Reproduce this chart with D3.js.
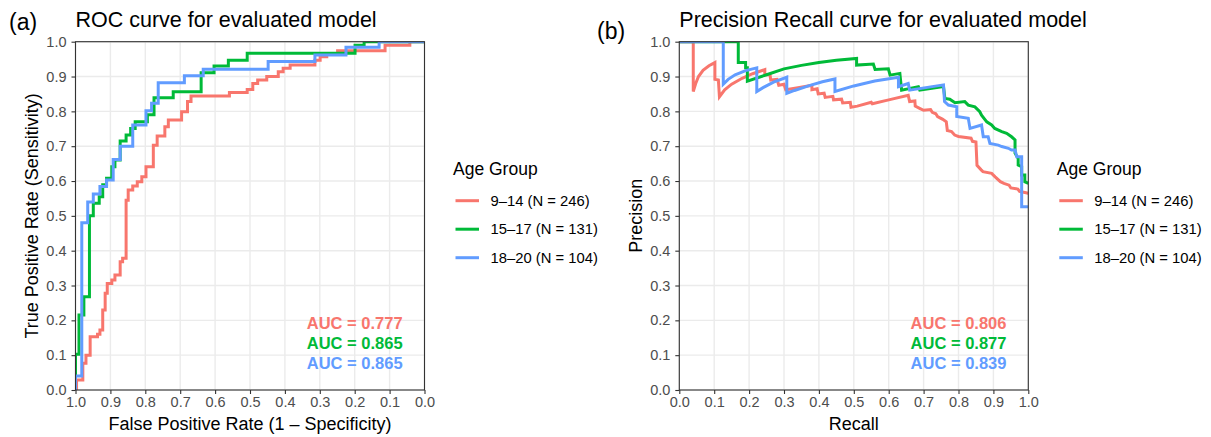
<!DOCTYPE html>
<html>
<head>
<meta charset="utf-8">
<script src="https://cdn.jsdelivr.net/npm/d3@7"></script>
<style>
  body { margin: 0; background: #ffffff; }
  text { font-family: "Liberation Sans", Arial, Helvetica, sans-serif; }
</style>
</head>
<body>
<svg id="chart" width="1211" height="437"></svg>
<script>
// ---- categories, labels and tick values ----
const groupLabels = ["9\u201314 (N = 246)", "15\u201317 (N = 131)", "18\u201320 (N = 104)"];
const groupColors = ["#F8766D", "#00BA38", "#619CFF"];
const tickValues = [0, 0.1, 0.2, 0.3, 0.4, 0.5, 0.6, 0.7, 0.8, 0.9, 1.0];
const rocAUC = ["0.777", "0.865", "0.865"];
const prAUC = ["0.806", "0.877", "0.839"];

// ---- ROC curve points (specificity, sensitivity), one point per threshold ----
const rocSpecA = [1.0, 0.997, 0.979, 0.970, 0.958, 0.937, 0.930, 0.922, 0.915, 0.909, 0.896, 0.887, 0.872, 0.865,
  0.855, 0.849, 0.836, 0.823, 0.810, 0.798, 0.777, 0.766, 0.744, 0.734, 0.696, 0.679, 0.669, 0.559, 0.508,
  0.492, 0.478, 0.452, 0.419, 0.405, 0.385, 0.314, 0.299, 0.280, 0.249, 0.113, 0.042, 0.0];
const rocSensA = [0.0, 0.029, 0.077, 0.100, 0.153, 0.160, 0.172, 0.230, 0.278, 0.306, 0.316, 0.330, 0.368, 0.378,
  0.545, 0.574, 0.586, 0.598, 0.612, 0.641, 0.703, 0.729, 0.756, 0.775, 0.799, 0.828, 0.844, 0.854, 0.863,
  0.880, 0.890, 0.900, 0.914, 0.924, 0.933, 0.947, 0.957, 0.965, 0.974, 0.990, 1.0, 1.0];

const rocSpecB = [1.0, 1.0, 0.990, 0.976, 0.960, 0.949, 0.932, 0.922, 0.911, 0.896, 0.887, 0.872, 0.855, 0.842,
  0.829, 0.794, 0.775, 0.720, 0.640, 0.603, 0.562, 0.508, 0.199, 0.173, 0.0];
const rocSensB = [0.0, 0.103, 0.215, 0.268, 0.500, 0.536, 0.555, 0.589, 0.608, 0.641, 0.660, 0.715, 0.732, 0.751,
  0.770, 0.790, 0.839, 0.856, 0.911, 0.930, 0.947, 0.967, 0.990, 1.0, 1.0];

const rocSpecC = [1.0, 1.0, 0.982, 0.965, 0.949, 0.930, 0.911, 0.892, 0.872, 0.836, 0.798, 0.782, 0.763, 0.688,
  0.634, 0.448, 0.314, 0.225, 0.130, 0.0];
const rocSensC = [0.0, 0.040, 0.480, 0.540, 0.563, 0.584, 0.603, 0.662, 0.700, 0.761, 0.802, 0.823, 0.882, 0.902,
  0.921, 0.943, 0.962, 0.984, 1.0, 1.0];

// ---- precision-recall curve points (recall, precision) ----
const prRecA = [0.0, 0.040, 0.040, 0.047, 0.055, 0.068, 0.085, 0.102, 0.102, 0.112, 0.115, 0.130, 0.150, 0.180,
  0.210, 0.245, 0.245, 0.260, 0.262, 0.280, 0.285, 0.300, 0.305, 0.340, 0.380, 0.380, 0.395, 0.398, 0.415,
  0.418, 0.440, 0.442, 0.465, 0.468, 0.490, 0.492, 0.510, 0.550, 0.553, 0.600, 0.656, 0.660, 0.675, 0.676,
  0.690, 0.700, 0.720, 0.725, 0.735, 0.740, 0.755, 0.765, 0.768, 0.780, 0.789, 0.800, 0.836, 0.840, 0.850,
  0.853, 0.865, 0.870, 0.895, 0.905, 0.920, 0.930, 0.945, 0.950, 0.970, 0.975, 0.990, 1.0];
const prPrecA = [1.0, 1.0, 0.857, 0.880, 0.900, 0.918, 0.931, 0.940, 0.892, 0.890, 0.842, 0.862, 0.878, 0.895,
  0.908, 0.920, 0.905, 0.905, 0.890, 0.892, 0.875, 0.878, 0.862, 0.868, 0.875, 0.862, 0.865, 0.850, 0.852,
  0.840, 0.843, 0.833, 0.835, 0.824, 0.826, 0.812, 0.815, 0.826, 0.822, 0.833, 0.846, 0.828, 0.830, 0.815,
  0.808, 0.803, 0.805, 0.797, 0.793, 0.785, 0.777, 0.770, 0.745, 0.742, 0.732, 0.728, 0.723, 0.714, 0.712,
  0.645, 0.632, 0.627, 0.622, 0.612, 0.598, 0.593, 0.588, 0.580, 0.577, 0.570, 0.567, 0.565];

const prRecB = [0.0, 0.169, 0.169, 0.190, 0.190, 0.195, 0.195, 0.250, 0.300, 0.350, 0.400, 0.450, 0.508, 0.508,
  0.556, 0.561, 0.599, 0.604, 0.632, 0.637, 0.685, 0.689, 0.757, 0.761, 0.775, 0.790, 0.818, 0.828, 0.847,
  0.861, 0.866, 0.881, 0.895, 0.904, 0.924, 0.938, 0.952, 0.962, 0.962, 0.971, 0.971, 0.981, 0.981, 0.990,
  0.990, 1.0];
const prPrecB = [1.0, 1.0, 0.940, 0.940, 0.925, 0.925, 0.887, 0.905, 0.922, 0.932, 0.940, 0.947, 0.952, 0.933,
  0.936, 0.920, 0.922, 0.904, 0.909, 0.861, 0.871, 0.861, 0.871, 0.837, 0.835, 0.825, 0.828, 0.818, 0.813,
  0.799, 0.789, 0.770, 0.761, 0.751, 0.742, 0.737, 0.727, 0.718, 0.680, 0.665, 0.646, 0.641, 0.617, 0.617,
  0.598, 0.593];

const prRecC = [0.0, 0.126, 0.126, 0.140, 0.160, 0.190, 0.222, 0.222, 0.240, 0.270, 0.308, 0.308, 0.330, 0.370,
  0.410, 0.446, 0.446, 0.500, 0.560, 0.628, 0.628, 0.656, 0.660, 0.757, 0.760, 0.771, 0.795, 0.795, 0.828,
  0.833, 0.866, 0.871, 0.885, 0.890, 0.914, 0.924, 0.943, 0.952, 0.962, 0.967, 0.981, 0.981, 1.0];
const prPrecC = [1.0, 1.0, 0.878, 0.892, 0.905, 0.917, 0.925, 0.857, 0.868, 0.884, 0.898, 0.852, 0.860, 0.873,
  0.885, 0.893, 0.857, 0.873, 0.887, 0.898, 0.871, 0.880, 0.861, 0.876, 0.828, 0.818, 0.813, 0.785, 0.780,
  0.751, 0.761, 0.727, 0.727, 0.708, 0.703, 0.699, 0.694, 0.689, 0.689, 0.670, 0.670, 0.526, 0.526];

// ---- layout ----
const svg = d3.select("#chart");
const TOP = 41.7, BOTTOM = 390;
const zip = (xs, ys) => xs.map((v, i) => [v, ys[i]]);

function drawPanel(cfg) {
  const g = svg.append("g");
  const x = d3.scaleLinear().domain(cfg.xDomain).range([cfg.left, cfg.right]);
  const y = d3.scaleLinear().domain([0, 1]).range([BOTTOM, TOP]);

  // grid
  const grid = g.append("g").attr("stroke", "#EBEBEB").attr("stroke-width", 1.4);
  grid.selectAll("line.gx").data(tickValues).join("line").attr("class", "gx")
    .attr("x1", d => x(d)).attr("x2", d => x(d)).attr("y1", TOP).attr("y2", BOTTOM);
  grid.selectAll("line.gy").data(tickValues).join("line").attr("class", "gy")
    .attr("y1", d => y(d)).attr("y2", d => y(d)).attr("x1", cfg.left).attr("x2", cfg.right);

  // curves, clipped to the panel
  const clipId = "clip-" + cfg.id;
  svg.append("defs").append("clipPath").attr("id", clipId).append("rect")
    .attr("x", cfg.left).attr("y", TOP).attr("width", cfg.right - cfg.left).attr("height", BOTTOM - TOP);
  const line = d3.line().x(d => x(d[0])).y(d => y(d[1])).curve(cfg.curve);
  g.append("g").attr("clip-path", `url(#${clipId})`)
    .selectAll("path").data(cfg.series).join("path")
    .attr("d", d => line(d))
    .attr("fill", "none")
    .attr("stroke", (d, i) => groupColors[i])
    .attr("stroke-width", 3)
    .attr("stroke-linejoin", "miter");

  // panel border
  g.append("rect").attr("x", cfg.left).attr("y", TOP)
    .attr("width", cfg.right - cfg.left).attr("height", BOTTOM - TOP)
    .attr("fill", "none").attr("stroke", "#333333").attr("stroke-width", 1.1);

  // axes
  const styleAxis = a => {
    a.attr("font-size", 14.5).attr("font-family", null);
    a.select(".domain").remove();
    a.selectAll(".tick line").attr("stroke", "#333333").attr("stroke-width", 1.1);
    a.selectAll(".tick text").attr("fill", "#4D4D4D");
  };
  g.append("g").attr("transform", `translate(0,${BOTTOM})`)
    .call(d3.axisBottom(x).tickValues(tickValues).tickFormat(d3.format(".1f")).tickSize(4).tickPadding(3))
    .call(styleAxis);
  g.append("g").attr("transform", `translate(${cfg.left},0)`)
    .call(d3.axisLeft(y).tickValues(tickValues).tickFormat(d3.format(".1f")).tickSize(4).tickPadding(5))
    .call(styleAxis);

  // axis titles
  g.append("text").attr("x", (cfg.left + cfg.right) / 2).attr("y", 430)
    .attr("text-anchor", "middle").attr("font-size", 18).attr("fill", "#000")
    .text(cfg.xTitle);
  g.append("text").attr("transform", `translate(${cfg.yTitleX},${(TOP + BOTTOM) / 2}) rotate(-90)`)
    .attr("text-anchor", "middle").attr("font-size", 18).attr("fill", "#000")
    .text(cfg.yTitle);

  // plot title and panel tag
  g.append("text").attr("x", cfg.left).attr("y", 27).attr("font-size", 21.5).attr("fill", "#000")
    .text(cfg.title);
  g.append("text").attr("x", cfg.tagX).attr("y", cfg.tagY).attr("font-size", 23).attr("fill", "#000")
    .text(cfg.tag);

  // AUC annotations
  g.append("g").selectAll("text").data(cfg.auc).join("text")
    .attr("x", x(cfg.aucX))
    .attr("y", (d, i) => y(cfg.aucY[i]) + 6)
    .attr("text-anchor", "middle").attr("font-size", 16.5).attr("font-weight", "bold")
    .attr("fill", (d, i) => groupColors[i])
    .text(d => "AUC = " + d);

  // legend
  const lg = g.append("g").attr("transform", `translate(${cfg.right + 28.5},0)`);
  lg.append("text").attr("x", 0).attr("y", 175).attr("font-size", 17.5).attr("fill", "#000").text("Age Group");
  const keyY = [200.7, 229.2, 257.7];
  const items = lg.selectAll("g.item").data(groupLabels).join("g").attr("class", "item")
    .attr("transform", (d, i) => `translate(0,${keyY[i]})`);
  items.append("line").attr("x1", 2.5).attr("x2", 26).attr("y1", 0).attr("y2", 0)
    .attr("stroke", (d, i) => groupColors[i]).attr("stroke-width", 3);
  items.append("text").attr("x", 37.5).attr("y", 5.2).attr("font-size", 14.8).attr("fill", "#000")
    .text(d => d);
}

drawPanel({
  id: "roc", left: 75.5, right: 424.5, xDomain: [1, 0],
  series: [zip(rocSpecA, rocSensA), zip(rocSpecB, rocSensB), zip(rocSpecC, rocSensC)],
  curve: d3.curveStepAfter,
  xTitle: "False Positive Rate (1 \u2013 Specificity)",
  yTitle: "True Positive Rate (Sensitivity)", yTitleX: 38,
  title: "ROC curve for evaluated model", tag: "(a)", tagX: 9, tagY: 30,
  auc: rocAUC, aucX: 0.2, aucY: [0.1915, 0.134, 0.077]
});

drawPanel({
  id: "pr", left: 679.3, right: 1028.3, xDomain: [0, 1],
  series: [zip(prRecA, prPrecA), zip(prRecB, prPrecB), zip(prRecC, prPrecC)],
  curve: d3.curveLinear,
  xTitle: "Recall",
  yTitle: "Precision", yTitleX: 642,
  title: "Precision Recall curve for evaluated model", tag: "(b)", tagX: 597, tagY: 38.5,
  auc: prAUC, aucX: 0.8, aucY: [0.1915, 0.134, 0.077]
});
</script>
</body>
</html>
